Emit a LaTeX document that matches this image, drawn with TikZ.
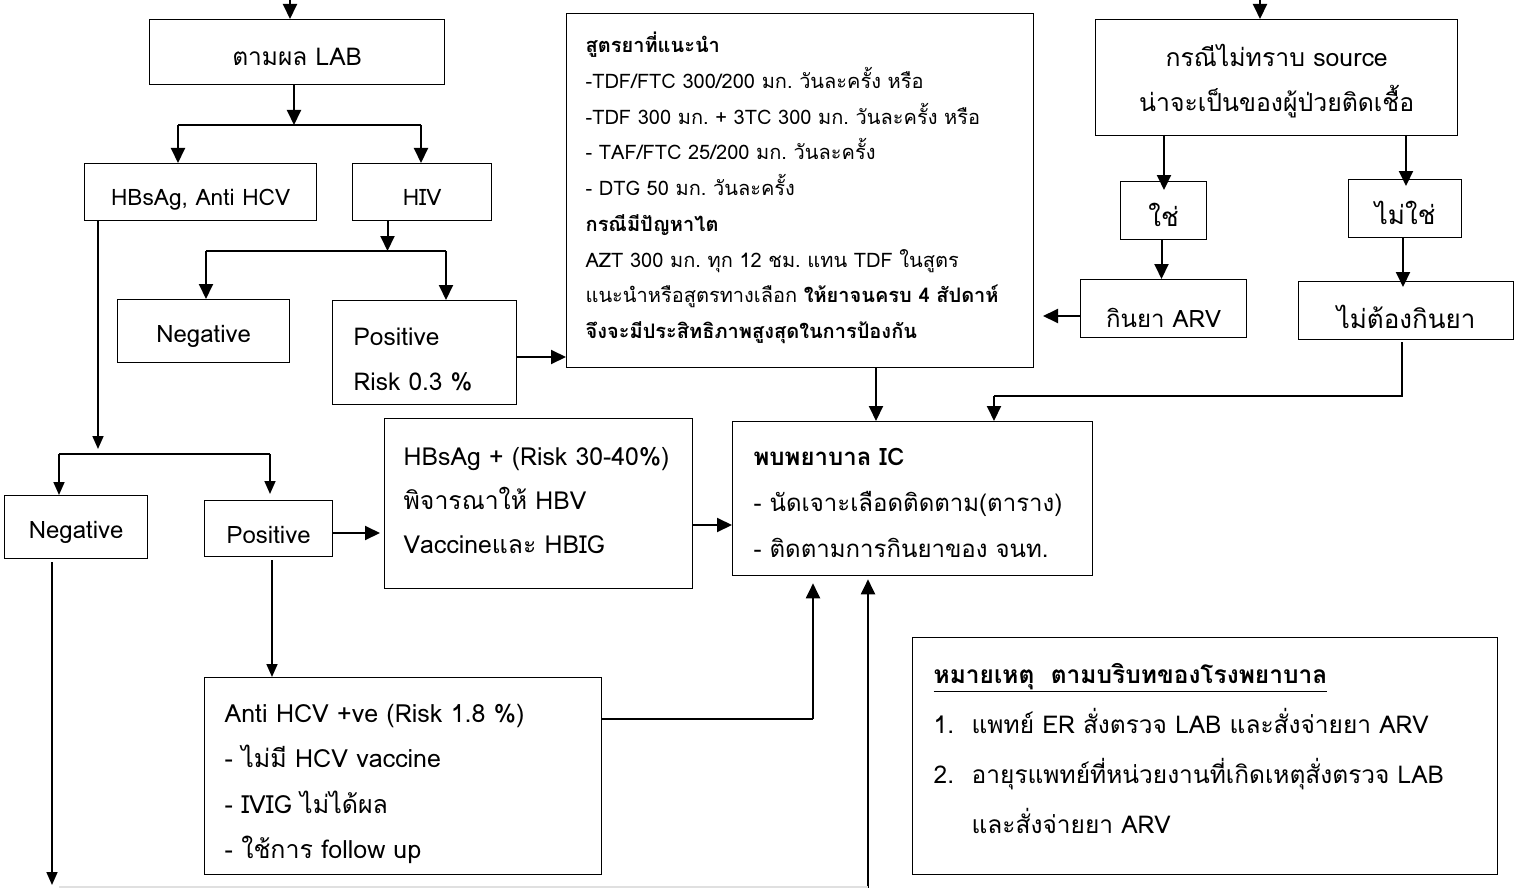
\documentclass[tikz,border=0pt]{standalone}
\usepackage{fontspec}
\setmainfont[Script=Thai]{Loma}
\usetikzlibrary{arrows.meta}
\newcommand\fsz[2]{\fontsize{#1}{#2}\selectfont}
\frenchspacing
\begin{document}
\begin{tikzpicture}[x=1pt,y=-1pt,
  bx/.style={draw, line width=1.3pt, inner sep=0pt, anchor=north west},
  ctr/.style={bx, align=center},
  lft/.style={bx, align=left},
  arr/.style={line width=2pt, -{Triangle[length=15pt,width=14pt]}},
  ln/.style={line width=2pt},
  arrs/.style={line width=1.6pt, -{Triangle[length=13pt,width=11pt]}},
  lns/.style={line width=1.6pt}]
\useasboundingbox (0,0) rectangle (1518,888);
% ---------- boxes ----------
\node[ctr, text width=295pt, text height=46pt, text depth=19pt, font=\fsz{24.5}{28}] (lab) at (149,19) {ตามผล LAB};
\node[ctr, text width=232pt, text height=42pt, text depth=15pt, font=\fsz{22.7}{26}] (hbs) at (84,163) {HBsAg, Anti HCV};
\node[ctr, text width=139pt, text height=42pt, text depth=15pt, font=\fsz{22.7}{26}] (hiv) at (352,163) {HIV};
\node[ctr, text width=172pt, text height=43pt, text depth=20pt, font=\fsz{24}{28}] (neg1) at (117,299) {Negative};
\node[lft, text width=142pt, inner xsep=21pt, text height=45pt, text depth=59pt, font=\fsz{24.5}{45}] (pos1) at (332,300) {Positive\\Risk 0.3 \%};
\node[lft, text width=429pt, inner xsep=19pt, text height=39pt, text depth=315pt, font=\fsz{20}{35.75}] (big) at (566,13) {%
\textbf{สูตรยาที่แนะนำ}\\
-TDF/FTC 300/200 มก. วันละครั้ง หรือ\\
-TDF 300 มก. + 3TC 300 มก. วันละครั้ง หรือ\\
- TAF/FTC 25/200 มก. วันละครั้ง\\
- DTG 50 มก. วันละครั้ง\\
\textbf{กรณีมีปัญหาไต}\\
AZT 300 มก. ทุก 12 ชม. แทน TDF ในสูตร\\
แนะนำหรือสูตรทางเลือก \textbf{ให้ยาจนครบ 4 สัปดาห์}\\
\textbf{จึงจะมีประสิทธิภาพสูงสุดในการป้องกัน}};
\node[ctr, text width=362pt, text height=47pt, text depth=69pt, font=\fsz{24.8}{45}] (src) at (1095,19) {กรณีไม่ทราบ source\\น่าจะเป็นของผู้ป่วยติดเชื้อ};
\node[ctr, text width=86pt, text height=45pt, text depth=13pt, font=\fsz{26}{28}] (yes) at (1120,181) {ใช่};
\node[ctr, text width=113pt, text height=45pt, text depth=13pt, font=\fsz{26}{28}] (no) at (1348,179) {ไม่ใช่};
\node[ctr, text width=166pt, text height=48pt, text depth=10pt, font=\fsz{24}{28}] (arv) at (1080,279) {กินยา ARV};
\node[ctr, text width=215pt, text height=47pt, text depth=11pt, font=\fsz{26}{28}] (notake) at (1298,281) {ไม่ต้องกินยา};
\node[ctr, text width=143pt, text height=43pt, text depth=20pt, font=\fsz{24}{28}] (neg2) at (4,495) {Negative};
\node[ctr, text width=128pt, text height=43pt, text depth=13pt, font=\fsz{24}{28}] (pos2) at (204,500) {Positive};
\node[lft, text width=270pt, inner xsep=19pt, text height=47pt, text depth=123pt, font=\fsz{24.8}{44}] (hbv) at (384,418) {HBsAg + (Risk 30-40\%)\\พิจารณาให้ HBV\\Vaccineและ HBIG};
\node[lft, text width=318pt, inner xsep=21pt, text height=44pt, text depth=110pt, font=\fsz{24}{46}] (ic) at (732,421) {\textbf{พบพยาบาล IC}\\- นัดเจาะเลือดติดตาม(ตาราง)\\- ติดตามการกินยาของ จนท.};
\node[lft, text width=357pt, inner xsep=20pt, text height=45pt, text depth=152pt, font=\fsz{25}{45.3}] (hcv) at (204,677) {Anti HCV +ve (Risk 1.8 \%)\\- ไม่มี HCV vaccine\\- IVIG ไม่ได้ผล\\- ใช้การ follow up};
\node[lft, text width=543pt, inner xsep=21pt, text height=46pt, text depth=191pt, font=\fsz{24.5}{50}] (note) at (912,637) {\textbf{\underline{หมายเหตุ\ \ ตามบริบทของโรงพยาบาล}}\\
\makebox[38pt][l]{1.}แพทย์ ER สั่งตรวจ LAB และสั่งจ่ายยา ARV\\
\makebox[38pt][l]{2.}อายุรแพทย์ที่หน่วยงานที่เกิดเหตุสั่งตรวจ LAB\\
\hspace*{38pt}และสั่งจ่ายยา ARV};
% ---------- connectors ----------
\coordinate (t1) at (290,0);
\draw[arr] (t1) -- (t1 |- lab.north);
\coordinate (j1) at (294,125);
\draw[arr] (j1 |- lab.south) -- (j1);
\coordinate (j1l) at (178,125);
\coordinate (j1r) at (421,125);
\draw[ln] (j1l) -- (j1r);
\draw[arr] (j1l) -- (j1l |- hbs.north);
\draw[arr] (j1r) -- (j1r |- hiv.north);
\coordinate (j2) at (387.5,251);
\draw[arr] (j2 |- hiv.south) -- (j2);
\coordinate (j2l) at (206,251);
\coordinate (j2r) at (446,251);
\draw[ln] (j2l) -- (j2r);
\draw[arr] (j2l) -- (j2l |- neg1.north);
\draw[arr] (j2r) -- (j2r |- pos1.north);
\coordinate (p1) at (516,357);
\draw[arr] (p1) -- (p1 -| big.west);
\coordinate (j3) at (98,449);
\draw[arrs] (j3 |- hbs.south) -- (j3);
\coordinate (j3l) at (59,454);
\coordinate (j3r) at (270,454);
\draw[lns] (j3l) -- (j3r);
\draw[arrs] (j3l) -- (j3l |- neg2.north);
\draw[arrs] (j3r) -- ([yshift=6pt]j3r |- pos2.north);
\coordinate (p2) at (332,533);
\draw[arr] (p2) -- ([xshift=-4pt]p2 -| hbv.west);
\coordinate (p3) at (692,525);
\draw[arr] (p3) -- (p3 -| ic.west);
\coordinate (p4) at (272,560);
\draw[arrs] (p4) -- (p4 |- hcv.north);
\coordinate (p5) at (601,719);
\coordinate (p5u) at (813,719);
\draw[lns] (p5) -- (p5u);
\draw[arr] (p5u) -- ([yshift=-7pt]p5u |- ic.south);
\coordinate (b1) at (868,888);
\draw[arr] (b1) -- ([yshift=-3pt]b1 |- ic.south);
\coordinate (n2) at (52,562);
\coordinate (n2e) at (52,885);
\draw[arrs] (n2) -- (n2e);
\draw[draw=black!12, line width=1.5pt] (59,887) -- (868,887);
\coordinate (p6) at (876,367);
\draw[arr] (p6) -- (p6 |- ic.north);
\coordinate (p7) at (1402,342);
\coordinate (p7c) at (1402,396);
\coordinate (p7d) at (994,396);
\draw[lns] (p7) -- (p7c) -- (p7d);
\draw[arr] (p7d) -- (p7d |- ic.north);
\coordinate (t2) at (1260,0);
\draw[arr] (t2) -- (t2 |- src.north);
\coordinate (s1) at (1164,135);
\draw[arr] (s1) -- ([yshift=-9pt]s1 |- yes.north);
\coordinate (s2) at (1406,135);
\draw[arr] (s2) -- ([yshift=-7pt]s2 |- no.north);
\coordinate (y1) at (1161.5,239);
\draw[arr] (y1) -- (y1 |- arv.north);
\coordinate (y2) at (1403,237);
\draw[arr] (y2) -- ([yshift=-6pt]y2 |- notake.north);
\coordinate (a1) at (1043,316);
\draw[arr] (a1 -| arv.west) -- (a1);
\end{tikzpicture}
\end{document}
